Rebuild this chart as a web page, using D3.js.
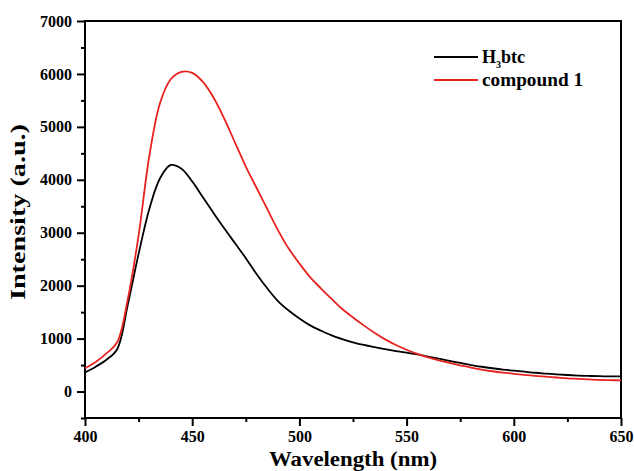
<!DOCTYPE html>
<html>
<head>
<meta charset="utf-8">
<script src="https://cdn.jsdelivr.net/npm/d3@7"></script>
<style>
  body { margin: 0; background: #fff; }
  svg text { font-family: "Liberation Serif", "Times New Roman", serif; font-weight: bold; }
</style>
</head>
<body>
<div id="main"></div>
<script>
// wavelength (nm), 5 nm steps
var wavelengths = d3.range(400, 651, 5);
// H3btc emission
var h3btc = [360, 470, 600, 800, 1650, 2600, 3450, 4030, 4280, 4210,
  3970, 3670, 3370, 3080, 2800, 2520, 2220, 1950, 1710, 1530,
  1380, 1250, 1150, 1060, 990, 930, 880, 840, 800, 765,
  735, 700, 660, 620, 580, 540, 500, 468, 440, 415,
  395, 375, 355, 340, 325, 312, 302, 295, 290, 286, 285];
// compound 1 emission
var compound1 = [440, 560, 720, 930, 1750, 2950, 4450, 5450, 5900, 6040,
  6020, 5850, 5550, 5150, 4700, 4250, 3850, 3450, 3050, 2700,
  2420, 2160, 1950, 1750, 1560, 1400, 1250, 1110, 985, 880,
  790, 710, 645, 590, 540, 495, 452, 415, 383, 357,
  335, 315, 295, 280, 265, 250, 240, 230, 220, 215, 210];
var xTicks = [400, 450, 500, 550, 600, 650];
var yTicks = [0, 1000, 2000, 3000, 4000, 5000, 6000, 7000];
var seriesNames = ["H3btc", "compound 1"];
var seriesColors = ["#000000", "#e8221f"];

var width = 634, height = 471;
var mLeft = 85, mRight = 621, mTop = 21, mBottom = 418;

var svg = d3.select("#main").append("svg")
    .attr("width", width)
    .attr("height", height);

var x = d3.scaleLinear().domain([400, 650]).range([mLeft, mRight]);
var y = d3.scaleLinear().domain([-500, 7000]).range([mBottom, mTop]);

// minor ticks
var xAxisMinor = d3.axisBottom(x).tickValues(d3.range(425, 650, 50)).tickSize(4).tickFormat("");
var yAxisMinor = d3.axisLeft(y).tickValues(d3.range(-500, 7000, 1000)).tickSize(4).tickFormat("");
svg.append("g").attr("transform", "translate(0," + mBottom + ")").call(xAxisMinor);
svg.append("g").attr("transform", "translate(" + mLeft + ",0)").call(yAxisMinor);

var xAxis = d3.axisBottom(x).tickValues(xTicks).tickSize(8).tickPadding(5).tickFormat(d3.format("d"));
var yAxis = d3.axisLeft(y).tickValues(yTicks).tickSize(8).tickPadding(5).tickFormat(d3.format("d"));
var gx = svg.append("g").attr("transform", "translate(0," + mBottom + ")").call(xAxis);
var gy = svg.append("g").attr("transform", "translate(" + mLeft + ",0)").call(yAxis);

svg.selectAll(".domain").remove();
svg.selectAll(".tick line").attr("stroke", "#000").attr("stroke-width", 2);
gx.selectAll("text").style("font-size", "16px").attr("fill", "#000");
gy.selectAll("text").style("font-size", "16px").attr("fill", "#000");

// frame
svg.append("rect")
    .attr("x", mLeft).attr("y", mTop)
    .attr("width", mRight - mLeft).attr("height", mBottom - mTop)
    .attr("fill", "none").attr("stroke", "#000").attr("stroke-width", 2);

var line = d3.line()
    .x(function(d, i) { return x(wavelengths[i]); })
    .y(function(d) { return y(d); })
    .curve(d3.curveCatmullRom.alpha(0.5));

svg.append("path").datum(h3btc)
    .attr("d", line).attr("fill", "none")
    .attr("stroke", seriesColors[0]).attr("stroke-width", 1.8);
svg.append("path").datum(compound1)
    .attr("d", line).attr("fill", "none")
    .attr("stroke", seriesColors[1]).attr("stroke-width", 1.8);

// axis titles
svg.append("text")
    .attr("x", (mLeft + mRight) / 2).attr("y", 466)
    .attr("text-anchor", "middle")
    .attr("textLength", 168).attr("lengthAdjust", "spacingAndGlyphs")
    .style("font-size", "20px")
    .text("Wavelength (nm)");
svg.append("text")
    .attr("transform", "translate(25,212) rotate(-90)")
    .attr("text-anchor", "middle")
    .attr("textLength", 176).attr("lengthAdjust", "spacingAndGlyphs")
    .style("font-size", "20px")
    .text("Intensity (a.u.)");

// legend
var legendY = [57, 80];
seriesNames.forEach(function(name, i) {
  svg.append("line")
      .attr("x1", 434).attr("x2", 478)
      .attr("y1", legendY[i]).attr("y2", legendY[i])
      .attr("stroke", seriesColors[i]).attr("stroke-width", 1.8);
  var t = svg.append("text")
      .attr("x", 482).attr("y", legendY[i] + 6)
      .style("font-size", "18px");
  if (name === "H3btc") {
    t.append("tspan").text("H");
    t.append("tspan").attr("dy", 5).style("font-size", "10px").text("3");
    t.append("tspan").attr("dy", -5).text("btc");
  } else {
    t.attr("textLength", 101).attr("lengthAdjust", "spacingAndGlyphs").text(name);
  }
});
</script>
</body>
</html>
